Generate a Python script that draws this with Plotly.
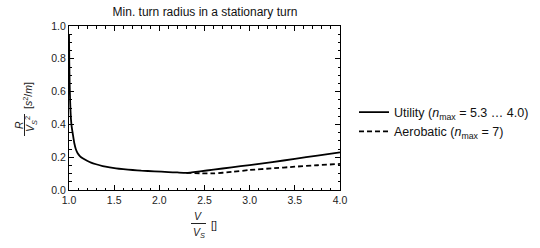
import plotly.graph_objects as go

# Data
util_x = [1.0, 1.003, 1.007, 1.012, 1.017, 1.022, 1.03, 1.041, 1.059, 1.075, 1.096, 1.12, 1.151,
          1.2, 1.244, 1.3, 1.373, 1.45, 1.52, 1.6, 1.705, 1.8, 1.945, 2.1, 2.2, 2.3,
          2.45, 2.6, 2.8, 3.0, 3.25, 3.5, 3.75, 4.0]
util_y = [0.95, 0.78, 0.65, 0.55, 0.48, 0.43, 0.385, 0.346, 0.285, 0.25, 0.224, 0.207, 0.193,
          0.178, 0.167, 0.157, 0.146, 0.138, 0.132, 0.127, 0.122, 0.118, 0.114, 0.109, 0.107, 0.105,
          0.114, 0.124, 0.138, 0.152, 0.17, 0.19, 0.21, 0.23]
aero_x = [2.3, 2.45, 2.6, 2.8, 3.0, 3.25, 3.5, 3.75, 4.0]
aero_y = [0.105, 0.102, 0.101, 0.11, 0.122, 0.132, 0.142, 0.151, 0.159]

title = "Min. turn radius in a stationary turn"
name_util = "Utility (<i>n</i><sub>max</sub> = 5.3 … 4.0)"
name_aero = "Aerobatic (<i>n</i><sub>max</sub> = 7)"

W, H = 540, 248
L, R, T, B = 69, 200, 26, 58
PW, PH = W - L - R, H - T - B

def px(x):
    return (x - L) / PW

def py(y):
    return (H - B - y) / PH

FONT = "Liberation Sans, Arial, sans-serif"

fig = go.Figure()
fig.add_trace(go.Scatter(x=util_x, y=util_y, mode="lines", name=name_util,
                         line=dict(color="black", width=1.8, shape="spline", smoothing=0.5)))
fig.add_trace(go.Scatter(x=aero_x, y=aero_y, mode="lines", name=name_aero,
                         line=dict(color="black", width=1.8, dash="5px,3px",
                                   shape="spline", smoothing=0.5)))

axis_common = dict(showline=True, linecolor="black", linewidth=1, mirror="allticks",
                   ticks="inside", ticklen=5, tickcolor="black", showgrid=False,
                   zeroline=False, tickfont=dict(family=FONT, size=10.5, color="#222"))

fig.update_xaxes(range=[1.0, 4.0], dtick=0.5, tick0=1.0, tickformat=".1f",
                 minor=dict(ticks="inside", dtick=0.1, ticklen=2.5, tickcolor="black"),
                 **axis_common)
fig.update_yaxes(range=[0.0, 1.0], dtick=0.2, tick0=0, tickformat=".1f",
                 minor=dict(ticks="inside", dtick=0.05, ticklen=2.5, tickcolor="black"),
                 **axis_common)

lab = dict(family=FONT, size=10.5, color="#222")
C = dict(xref="paper", yref="paper", showarrow=False, xanchor="center", yanchor="middle")
ann = []
# y-axis label: R / V_S^2 [s^2/m]
ann.append(dict(x=px(19), y=py(125), text="<i>R</i>", textangle=-90, font=lab, **C))
ann.append(dict(x=px(31), y=py(124), text="<i>V</i><sub><i>S</i></sub><sup>2</sup>",
                textangle=-90, font=lab, **C))
ann.append(dict(x=px(27), y=py(96), text="[<i>s</i><sup>2</sup>/<i>m</i>]",
                textangle=-90, font=lab, **C))
# x-axis label: V / V_S []
ann.append(dict(x=px(198), y=py(216), text="<i>V</i>", font=lab, **C))
ann.append(dict(x=px(199), y=py(233), text="<i>V</i><sub><i>S</i></sub>", font=lab, **C))
ann.append(dict(x=px(214), y=py(225), text="[]", font=lab, **C))

shapes = [
    dict(type="line", xref="paper", yref="paper", x0=px(24.5), x1=px(24.5),
         y0=py(114), y1=py(136), line=dict(color="#222", width=1)),
    dict(type="line", xref="paper", yref="paper", x0=px(191), x1=px(206),
         y0=py(223.5), y1=py(223.5), line=dict(color="#222", width=1)),
]

fig.update_layout(
    width=W, height=H, margin=dict(l=L, r=R, t=T, b=B, autoexpand=False),
    paper_bgcolor="white", plot_bgcolor="white",
    title=dict(text=title, x=205 / W, xanchor="center", y=1 - 12 / H, yanchor="middle",
               font=dict(family=FONT, size=12, color="#111")),
    showlegend=True,
    legend=dict(x=px(354), y=py(122), xanchor="left", yanchor="middle",
                font=dict(family=FONT, size=12.5, color="#111"),
                bgcolor="rgba(0,0,0,0)", tracegroupgap=0),
    annotations=ann, shapes=shapes,
)

fig.write_html("out.html")
